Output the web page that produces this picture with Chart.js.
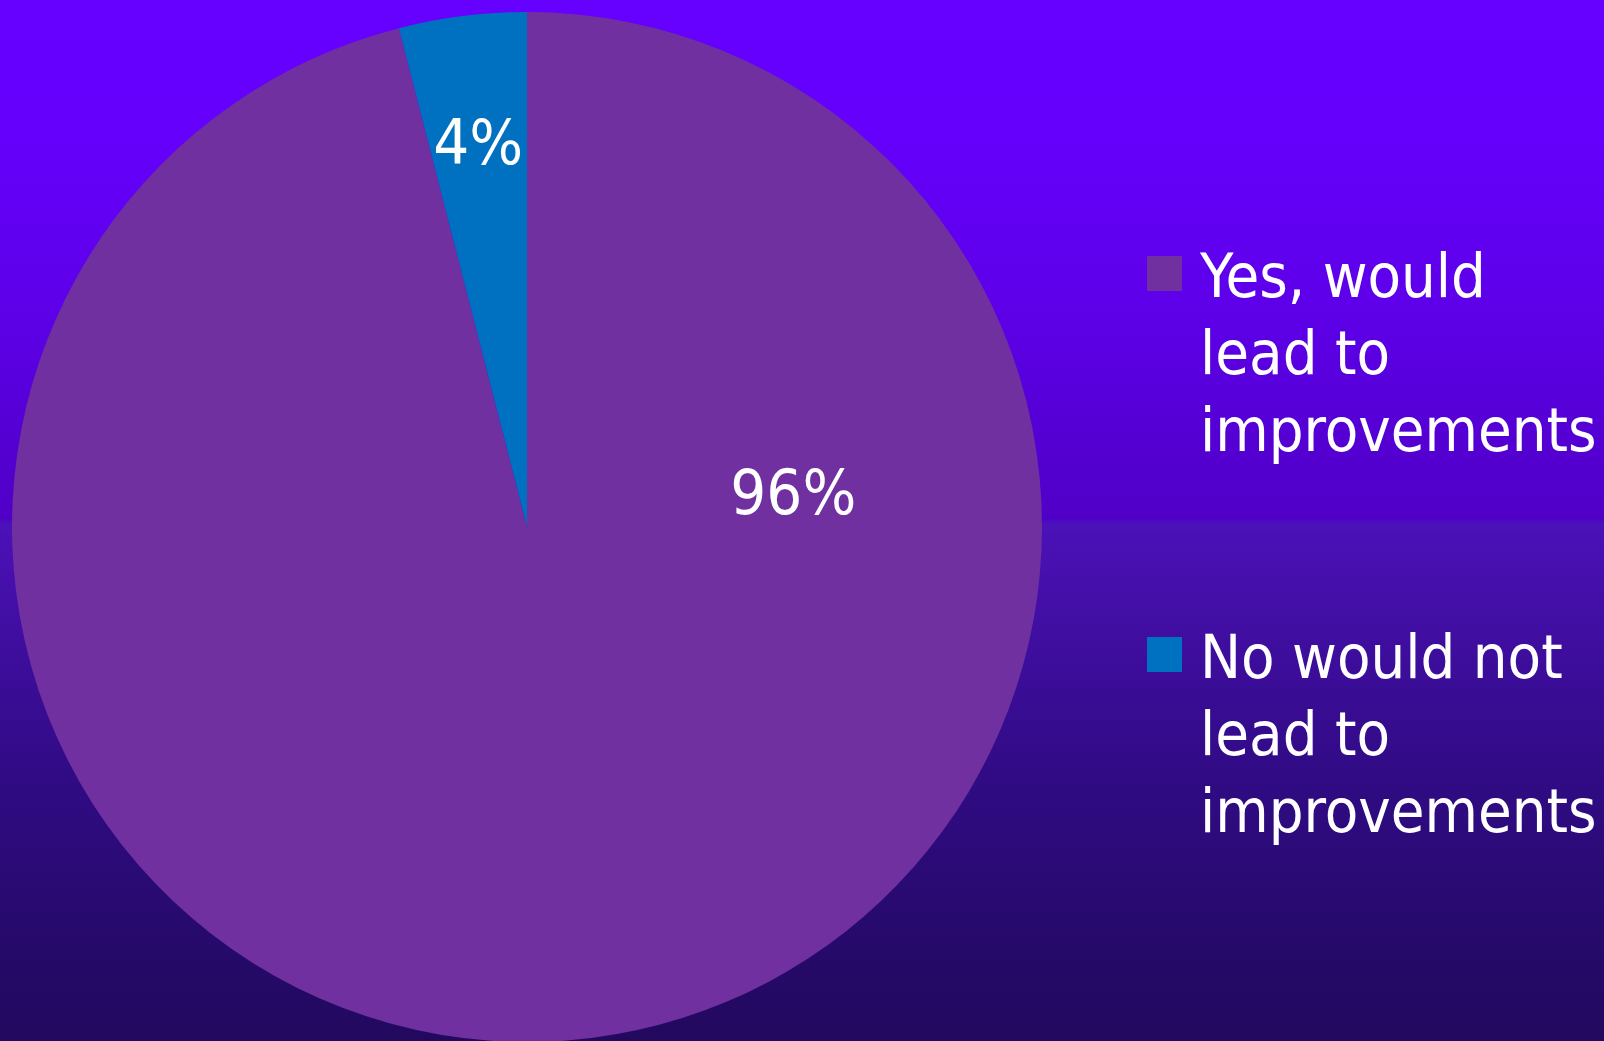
<!DOCTYPE html>
<html>
<head>
<meta charset="utf-8">
<title>Would it lead to improvements?</title>
<script src="https://cdn.jsdelivr.net/npm/chart.js@4/dist/chart.umd.min.js"></script>
<style>
  html, body { margin: 0; padding: 0; overflow: hidden; }
  body {
    width: 1604px; height: 1041px;
    background: linear-gradient(to bottom,
      #6600ff 0%, #6500fd 12%, #5d00e8 30%, #5300d0 44%, #5000c6 49.8%,
      #4a12b8 50.3%, #4810b0 54%, #3c0d9a 64%, #300b84 75%, #280a70 87%, #22095e 100%);
  }
  #wrap { position: absolute; left: 0; top: 0; width: 1604px; height: 1060px; }
</style>
</head>
<body>
<div id="wrap"><canvas id="pie" width="1604" height="1060"></canvas></div>
<script>
// Survey answers
const categories = [
  ['Yes, would', 'lead to', 'improvements'],
  ['No would not', 'lead to', 'improvements']
];
const shares = [96, 4];
const sliceColors = ['#7030a0', '#0070c0'];

const FONT = '"DejaVu Sans Condensed", "DejaVu Sans", sans-serif';

// Percentage labels inside the slices
const percentLabels = {
  id: 'percentLabels',
  afterDatasetsDraw(chart, args, opts) {
    const ctx = chart.ctx;
    const meta = chart.getDatasetMeta(0);
    const data = chart.data.datasets[0].data;
    ctx.save();
    ctx.fillStyle = '#ffffff';
    ctx.font = `${opts.size}px ${FONT}`;
    ctx.textAlign = 'center';
    ctx.textBaseline = 'alphabetic';
    meta.data.forEach((arc, i) => {
      const p = arc.getProps(['x', 'y', 'startAngle', 'endAngle', 'outerRadius'], true);
      let x, y;
      const place = opts.place[i];
      if (place.mode === 'mid') {
        const a = (p.startAngle + p.endAngle) / 2;
        x = p.x + Math.cos(a) * p.outerRadius * place.r;
        y = p.y + Math.sin(a) * p.outerRadius * place.r;
      } else {
        x = p.x + place.dx * p.outerRadius;
        y = p.y + place.dy * p.outerRadius;
      }
      ctx.fillText(data[i] + '%', x, y + opts.size * 0.36);
    });
    ctx.restore();
  }
};

// Legend at the right with wrapped labels
const sideLegend = {
  id: 'sideLegend',
  afterDraw(chart, args, opts) {
    const ctx = chart.ctx;
    const ds = chart.data.datasets[0];
    ctx.save();
    ctx.font = `${opts.size}px ${FONT}`;
    ctx.textBaseline = 'alphabetic';
    chart.data.labels.forEach((lines, i) => {
      const top = opts.top + i * opts.gap;
      ctx.fillStyle = ds.backgroundColor[i];
      ctx.fillRect(opts.boxX, top + opts.boxDy, opts.box, opts.box);
      ctx.fillStyle = '#ffffff';
      lines.forEach((ln, j) => {
        ctx.fillText(ln, opts.textX, top + j * opts.lineHeight);
      });
    });
    ctx.restore();
  }
};

new Chart(document.getElementById('pie'), {
  type: 'pie',
  data: {
    labels: categories,
    datasets: [{
      data: shares,
      backgroundColor: sliceColors,
      borderWidth: 0
    }]
  },
  options: {
    responsive: false,
    animation: false,
    layout: { padding: { left: 12, top: 12, right: 562, bottom: 18 } },
    plugins: {
      legend: { display: false },
      tooltip: { enabled: false },
      percentLabels: {
        size: 63,
        place: [
          { mode: 'free', dx: 0.517, dy: -0.07 },
          { mode: 'mid', r: 0.755 }
        ]
      },
      sideLegend: {
        size: 61, boxX: 1147, box: 35, boxDy: -41,
        textX: 1200, top: 297, gap: 381, lineHeight: 77
      }
    }
  },
  plugins: [percentLabels, sideLegend]
});
</script>
</body>
</html>
